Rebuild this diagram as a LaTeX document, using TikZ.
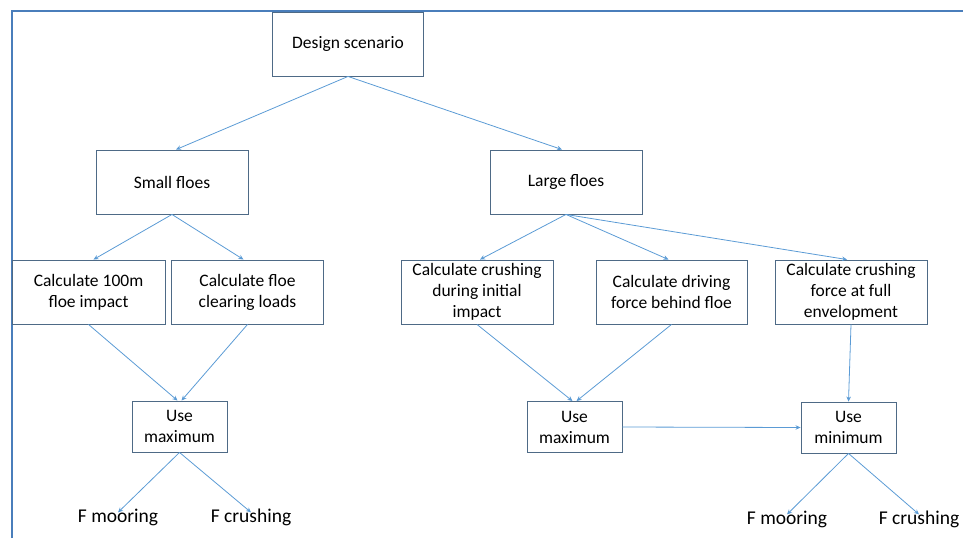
\documentclass[tikz,border=0pt]{standalone}
\usepackage{fontspec}
\setmainfont{Carlito}
\usetikzlibrary{arrows.meta}
\definecolor{boxline}{HTML}{4E6A86}
\definecolor{arrowline}{HTML}{5B9BD5}
\definecolor{frameline}{HTML}{4A7EBB}
\tikzset{
	stepbox/.style={draw=boxline, line width=0.9pt, minimum width=152pt, minimum height=64pt, align=center, inner sep=1pt, font=\fontsize{17.5}{21}\selectfont},
	usebox/.style={stepbox, minimum width=95pt, minimum height=51pt},
	outtext/.style={inner sep=2pt, font=\fontsize{19.5}{23}\selectfont},
	flow/.style={draw=arrowline, line width=0.8pt, -{Stealth[length=5pt, width=4.5pt]}}
}

\begin{document}
\begin{tikzpicture}[x=1pt, y=-1pt]
			%%%%% START %%%%%
			\useasboundingbox (0, 0) rectangle (963, 538);
			\draw[frameline, line width=1.2pt] (12, 538) -- (12, 11) -- (963, 11);
			
			\node[stepbox, minimum width=151pt] (design) at (348, 44) {Design scenario};
			
			\node[stepbox] (small) at (172, 182) {Small floes};
			\node[stepbox] (large) at (566, 182) {Large floes};
			
			\node[stepbox, minimum width=153pt] (impact) at (88.5, 292) {Calculate 100m\\floe impact};
			\node[stepbox] (clearing) at (247.5, 292) {Calculate floe\\clearing loads};
			\node[stepbox] (initial) at (477, 292) {Calculate crushing\\during initial\\impact};
			\node[stepbox, minimum width=151pt] (driving) at (671.5, 292) {Calculate driving\\force behind floe};
			\node[stepbox] (full) at (851, 292) {Calculate crushing\\force at full\\envelopment};
			
			\node[usebox] (maxsmall) at (179.5, 426.5) {Use\\maximum};
			\node[usebox] (maxlarge) at (574.5, 427) {Use\\maximum};
			\node[usebox] (minlarge) at (848.5, 427.5) {Use\\minimum};
			
			\node[outtext] (mooringsmall) at (118, 517) {F mooring};
			\node[outtext] (crushingsmall) at (251, 517) {F crushing};
			\node[outtext] (mooringlarge) at (787, 519) {F mooring};
			\node[outtext] (crushinglarge) at (919, 519) {F crushing};
			
			\draw[flow] (design.south) -- ([xshift=4pt]small.north);
			\draw[flow] (design.south) -- ([xshift=-4pt]large.north);
			
			\draw[flow] (small.south) -- ([xshift=5pt]impact.north);
			\draw[flow] (small.south) -- ([xshift=-4pt]clearing.north);
			\draw[flow] (large.south) -- ([xshift=3pt]initial.north);
			\draw[flow] (large.south) -- ([xshift=-3pt]driving.north);
			\draw[flow] (large.south) -- ([xshift=-4pt]full.north);
			
			\draw[flow] (impact.south) -- ([xshift=-2pt]maxsmall.north);
			\draw[flow] (clearing.south) -- ([xshift=2pt]maxsmall.north);
			\draw[flow] (initial.south) -- ([xshift=-2pt]maxlarge.north);
			\draw[flow] (driving.south) -- ([xshift=2pt]maxlarge.north);
			\draw[flow] (full.south) -- (minlarge.north);
			\draw[flow] (maxlarge.east) -- (minlarge.west);
			
			\draw[flow] (maxsmall.south) -- ([yshift=-6pt]mooringsmall.north);
			\draw[flow] (maxsmall.south) -- ([yshift=-6pt]crushingsmall.north);
			\draw[flow] (minlarge.south) -- ([yshift=-6pt]mooringlarge.north);
			\draw[flow] (minlarge.south) -- ([yshift=-6pt]crushinglarge.north);
			%%%%% END %%%%%
		\end{tikzpicture}
\end{document}
